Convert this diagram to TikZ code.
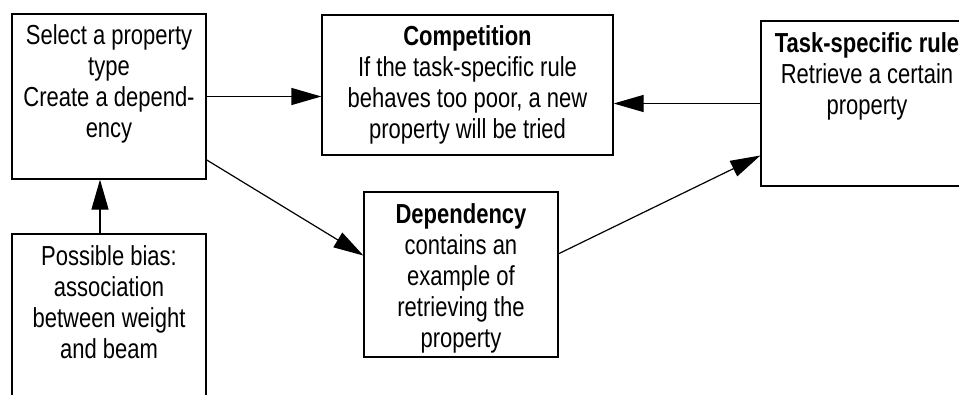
\documentclass[tikz,border=0pt]{standalone}
\usepackage{fontspec}
\setmainfont{Liberation Sans}[FakeStretch=0.8]
\usepackage{tikz}
\usetikzlibrary{arrows.meta,positioning}

\begin{document}
\begin{tikzpicture}[x=1pt,y=-1pt,
  box/.style={draw,line width=1.2pt,inner sep=0pt},
  boxtext/.style={align=center,font=\fontsize{27.5}{31}\selectfont,inner sep=0pt},
  flow/.style={line width=1.2pt,-{Triangle[length=30pt,width=17pt]}}]
  \useasboundingbox (0,0) rectangle (959,394);
  % boxes
  \node[box,minimum width=194pt,minimum height=165pt] (select) at (109,96.5) {};
  \node[box,minimum width=291pt,minimum height=140pt] (comp) at (467.5,85) {};
  \node[box,minimum width=212pt,minimum height=165pt] (task) at (867,103.5) {};
  \node[box,minimum width=194pt,minimum height=165pt] (dep) at (461,274.5) {};
  \node[box,minimum width=194pt,minimum height=165pt] (bias) at (109,316.5) {};
  % texts
  \node[boxtext,below=11pt of select.north] (selecttext) {Select a property\\type\\Create a depend-\\ency};
  \node[boxtext,below=11pt of comp.north] (comptext) {\textbf{Competition}\\If the task-specific rule\\behaves too poor, a new\\property will be tried};
  \node[boxtext,below=12pt of task.north] (tasktext) {\textbf{Task-specific rule}\\Retrieve a certain\\property};
  \node[boxtext,below=12pt of dep.north] (deptext) {\textbf{Dependency}\\contains an\\example of\\retrieving the\\property};
  \node[boxtext,below=12pt of bias.north] (biastext) {Possible bias:\\association\\between weight\\and beam};
  % arrows
  \draw[flow] (select.east) -- (select.east -| comp.west);
  \draw[flow] (task.west) -- (task.west -| comp.east);
  \draw[flow] (select.-33) -- (dep.169);
  \draw[flow] (dep.12) -- (task.206);
  \draw[flow] ([xshift=-9pt]bias.north) -- ([xshift=-9pt]select.south);
\end{tikzpicture}
\end{document}
